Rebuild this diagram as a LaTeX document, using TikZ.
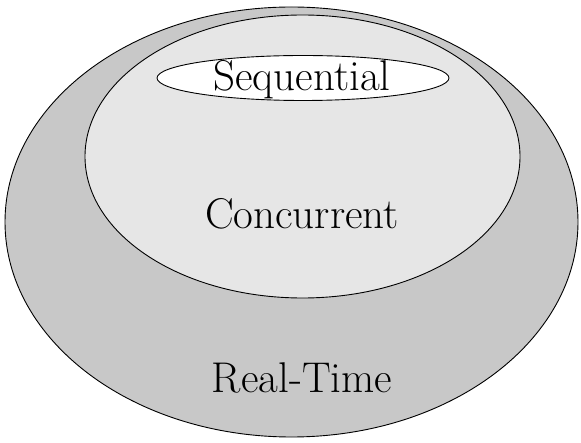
\documentclass[tikz,border=0pt]{standalone}
\usepackage{tikz}

\definecolor{rtgray}{RGB}{200,200,200}
\definecolor{congray}{RGB}{230,230,230}

\tikzset{
    setline/.style={draw=black, line width=0.9pt},
    setlabel/.style={font=\fontsize{43}{45}\selectfont, inner sep=0pt}
}

\begin{document}
\begin{tikzpicture}[x=1pt, y=-1pt]
    \useasboundingbox (0,0) rectangle (581,443);

    % Mengen, von aussen nach innen
    \filldraw[setline, fill=rtgray] (291.5,222) ellipse (286.5 and 215);
    \filldraw[setline, fill=congray] (302.5,156.5) ellipse (217.5 and 141.5);
    \filldraw[setline, fill=white] (303,78) ellipse (146 and 22.5);

    \node[setlabel] (seq) at (302,80) {Sequential};
    \node[setlabel] (conc) at (302,214) {Concurrent};
    \node[setlabel] (rt) at (302,378) {Real-Time};
\end{tikzpicture}
\end{document}
